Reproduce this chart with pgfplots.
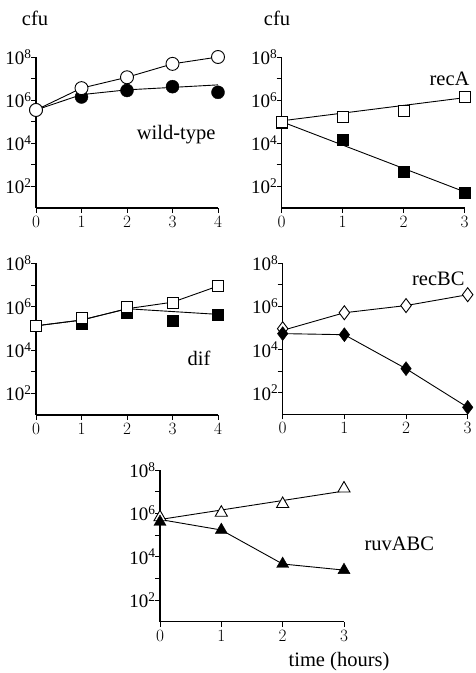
\documentclass[border=0pt]{standalone}
\usepackage{fontspec}
\setmainfont{Liberation Serif}
\usepackage{pgfplots}
\pgfplotsset{compat=1.18}

\pgfplotsset{
  cfu/.style={
    scale only axis, anchor=south west,
    ymin=10, ymax=1e8, xmin=0,
    axis lines=left, axis line style={-, line width=1.1pt},
    ytick={1e2,1e4,1e6,1e8},
    yticklabels={10\textsuperscript{2},10\textsuperscript{4},10\textsuperscript{6},10\textsuperscript{8}},
    minor ytick={1e3,1e5,1e7},
    xtick distance=1,
    tick align=outside, major tick length=5pt, minor tick length=5pt,
    every tick/.style={black, line width=0.9pt},
    ticklabel style={font=\fontsize{19}{19}\selectfont},
    yticklabel style={xshift=4pt},
    clip=false,
  },
  lin/.style={black, line width=0.9pt, no marks},
  opn/.style={only marks, mark options={fill=white, draw=black, line width=0.9pt}},
  fil/.style={only marks, mark options={fill=black, draw=black}},
}
\newcommand{\lbl}{\fontsize{20.5}{20.5}\selectfont}

\begin{document}
\begin{tikzpicture}
\useasboundingbox (0,0) rectangle (475pt,673pt);

% wild-type
\begin{semilogyaxis}[cfu, at={(36pt,465pt)}, width=182pt, height=151pt, xmax=4]
\addplot[lin] coordinates {(0,3.5e5)(1,3.6e6)(2,1.15e7)(3,4.8e7)(4,1e8)};
\addplot[lin] coordinates {(0,3.5e5)(1,1.8e6)(2,3.0e6)(3,3.9e6)(4,5.1e6)};
\addplot[fil, mark=*, mark size=6.5pt] coordinates {(0,3.5e5)(1,1.4e6)(2,2.8e6)(3,4.2e6)(4,2.3e6)};
\addplot[opn, mark=*, mark size=6.5pt] coordinates {(0,3.5e5)(1,3.6e6)(2,1.15e7)(3,4.8e7)(4,1e8)};
\end{semilogyaxis}

% recA
\begin{semilogyaxis}[cfu, at={(281.7pt,465pt)}, width=183pt, height=151pt, xmax=3]
\addplot[lin] coordinates {(0,1.1e5)(3,1.3e6)};
\addplot[lin] coordinates {(0,1e5)(3,56)};
\addplot[fil, mark=square*, mark size=5.5pt] coordinates {(0,9e4)(1,1.4e4)(2,460)(3,50)};
\addplot[opn, mark=square*, mark size=5.5pt] coordinates {(0,1e5)(1,1.7e5)(2,3.3e5)(3,1.4e6)};
\end{semilogyaxis}

% dif
\begin{semilogyaxis}[cfu, at={(36pt,258pt)}, width=182pt, height=151.7pt, xmax=4]
\addplot[lin] coordinates {(0,1.3e5)(1,2.4e5)(2,8e5)(3,1.6e6)(4,8.9e6)};
\addplot[lin] coordinates {(0,1.3e5)(1,2.4e5)(2,8e5)(4,4.4e5)};
\addplot[fil, mark=square*, mark size=5.5pt] coordinates {(0,1.3e5)(1,1.6e5)(2,5.2e5)(3,2.2e5)(4,4.2e5)};
\addplot[opn, mark=square*, mark size=5.5pt] coordinates {(0,1.3e5)(1,2.9e5)(2,1e6)(3,1.5e6)(4,8.9e6)};
\end{semilogyaxis}

% recBC
\begin{semilogyaxis}[cfu, at={(282.7pt,258.7pt)}, width=185pt, height=151pt, xmax=3]
\addplot[lin] coordinates {(0,7.8e4)(1,5.1e5)(2,1.1e6)(3,3.5e6)};
\addplot[lin] coordinates {(0,5.5e4)(1,4.9e4)(2,1.3e3)(3,21)};
\addplot[opn, mark=diamond*, mark size=7pt] coordinates {(0,9.3e4)(1,5.1e5)(2,1.1e6)(3,3.5e6)};
\addplot[fil, mark=diamond*, mark size=7pt] coordinates {(0,5.5e4)(1,4.9e4)(2,1.3e3)(3,21)};
\end{semilogyaxis}

% ruvABC
\begin{semilogyaxis}[cfu, at={(160pt,51.3pt)}, width=184pt, height=151.7pt, xmax=3]
\addplot[lin] coordinates {(0,5.2e5)(3,1.07e7)};
\addplot[lin] coordinates {(0,5.2e5)(1,1.7e5)(2,4.6e3)(3,2.4e3)};
\addplot[opn, mark=triangle*, mark size=7pt] coordinates {(0,6.6e5)(1,1.07e6)(2,2.7e6)(3,1.4e7)};
\addplot[fil, mark=triangle*, mark size=7pt] coordinates {(0,4e5)(1,1.7e5)(2,4.6e3)(3,2.4e3)};
\end{semilogyaxis}

\node[font=\lbl] at (35pt,655pt) {cfu};
\node[font=\lbl] at (277pt,655pt) {cfu};
\node[font=\lbl, anchor=east] at (219pt,538pt) {wild-type};
\node[font=\lbl, anchor=east] at (473pt,594pt) {recA};
\node[font=\lbl, anchor=east] at (214pt,315pt) {dif};
\node[font=\lbl, anchor=east] at (468pt,394pt) {recBC};
\node[font=\lbl, anchor=west] at (361pt,129pt) {ruvABC};
\node[font=\lbl] at (339pt,11pt) {time (hours)};
\end{tikzpicture}
\end{document}
